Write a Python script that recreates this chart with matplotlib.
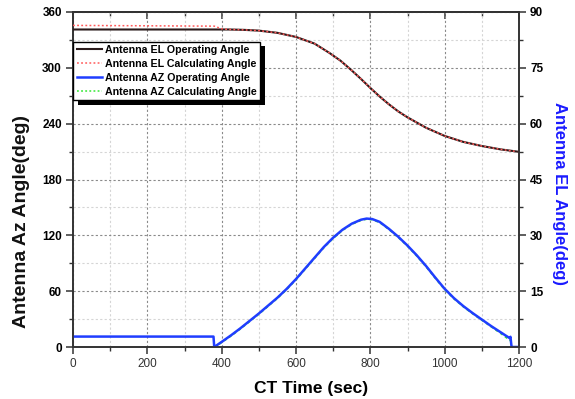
import matplotlib
matplotlib.use("Agg")
import matplotlib.pyplot as plt
from matplotlib.ticker import MultipleLocator
from matplotlib.lines import Line2D
import matplotlib.patheffects as pe

plt.rcParams['font.family'] = ['Liberation Sans', 'DejaVu Sans']

# ---- data ----
t_el = [0, 380, 420, 460, 500, 550, 600, 650, 690, 720, 750, 775, 800, 825, 850, 875, 900, 950, 1000, 1050, 1100, 1150, 1195]
el_operating = [85.3, 85.3, 85.3, 85.2, 85.0, 84.4, 83.3, 81.5, 79.0, 76.9, 74.3, 72.0, 69.6, 67.3, 65.2, 63.3, 61.7, 58.9, 56.7, 55.1, 54.0, 53.1, 52.5]
t_el_calc = [0, 380, 400, 420, 460, 500, 550, 600, 650, 690, 720, 750, 775, 800, 825, 850, 875, 900, 950, 1000, 1050, 1100, 1150, 1195]
el_calculating = [86.4, 86.2, 85.5, 85.3, 85.2, 85.0, 84.4, 83.3, 81.5, 79.0, 76.9, 74.3, 72.0, 69.6, 67.3, 65.2, 63.3, 61.7, 58.9, 56.7, 55.1, 54.0, 53.1, 52.5]

t_az = [0, 378, 380, 400, 425, 450, 475, 500, 525, 550, 575, 600, 625, 650, 675, 700, 725, 750, 775, 790,
        805, 825, 850, 875, 900, 925, 950, 975, 1000, 1025, 1050, 1075, 1100, 1125, 1150, 1175, 1177, 1180, 1195]
az_operating = [11.2, 11.2, 0, 5.5, 12.5, 20, 28, 36, 44.5, 53, 62.5, 73, 84.5, 96, 107.5, 117.5, 126, 132.5, 136.8, 138,
                137.5, 134.5, 127, 118.5, 109, 98.5, 87, 74.5, 62.5, 52.5, 44, 36.5, 29.5, 22.5, 16, 9.5, 11, 0, 0]
t_az_calc = [380, 400, 425, 450, 475, 500, 525, 550, 575, 600, 625, 650, 675, 700, 725, 750, 775, 790,
             805, 825, 850, 875, 900, 925, 950, 975, 1000, 1025, 1050, 1075, 1100, 1125, 1150, 1180]
az_calculating = [0, 5.0, 12, 19.5, 27.5, 35.5, 44, 52.5, 62, 72.5, 84, 95.5, 107, 117, 125.5, 132, 136.3, 137.5,
                  137, 134, 126.5, 118, 108.5, 98, 86.5, 74, 62, 52, 43.5, 36, 29, 22, 15, 6]

x_ticks = [0, 200, 400, 600, 800, 1000, 1200]
az_ticks = [0, 60, 120, 180, 240, 300, 360]
el_ticks = [0, 15, 30, 45, 60, 75, 90]

legend_labels = ['Antenna EL Operating Angle', 'Antenna EL Calculating Angle',
                 'Antenna AZ Operating Angle', 'Antenna AZ Calculating Angle']

# ---- figure ----
fig = plt.figure(figsize=(5.75, 3.99), dpi=100)
ax = fig.add_axes([73/575, 1-347/399, 446/575, 335/399])
ax2 = ax.twinx()

ax.set_xlim(0, 1200)
ax.set_ylim(0, 360)
ax2.set_ylim(0, 90)

ax.set_xticks(x_ticks)
ax.xaxis.set_minor_locator(MultipleLocator(100))
ax.set_yticks(az_ticks)
ax.yaxis.set_minor_locator(MultipleLocator(30))
ax2.set_yticks(el_ticks)
ax2.yaxis.set_minor_locator(MultipleLocator(7.5))

# grid
ax.grid(which='major', color='#8a8a8a', linestyle=(0, (2, 2)), linewidth=0.8)
ax.grid(which='minor', color='#d5d5d5', linestyle=(0, (2, 2)), linewidth=0.8)
ax.set_axisbelow(True)

# lines
ax.plot(t_az_calc, az_calculating, color='#33e833', linestyle=(0, (1.5, 1.5)), linewidth=1.4, zorder=3)
ax.plot(t_az, az_operating, color='#1f3dff', linewidth=1.8, zorder=4)
ax2.plot(t_el, el_operating, color='#2a1a1a', linewidth=1.5, zorder=3)
ax2.plot(t_el_calc, el_calculating, color='#ff5a5a', linestyle=(0, (1.2, 1.5)), linewidth=1.1, zorder=4)

# ticks
for a in (ax, ax2):
    for s in a.spines.values():
        s.set_linewidth(1.2)
        s.set_color('#333333')
ax.tick_params(axis='both', which='major', direction='out', length=5, width=1.1, color='#333333')
ax.tick_params(axis='both', which='minor', direction='out', length=3, width=1.0, color='#333333')
ax.tick_params(axis='y', labelsize=8.5, pad=3)
ax.tick_params(axis='x', labelsize=8.5, pad=3, labelcolor='#333333')
for lbl in ax.get_yticklabels():
    lbl.set_fontweight('bold')
ax2.tick_params(axis='y', which='major', direction='out', length=5, width=1.1, color='#333333', labelsize=8.5, pad=3)
ax2.tick_params(axis='y', which='minor', direction='out', length=3, width=1.0, color='#333333')
for lbl in ax2.get_yticklabels():
    lbl.set_fontweight('bold')

secx = ax.secondary_xaxis('top')
secx.set_xticks(x_ticks)
secx.xaxis.set_minor_locator(MultipleLocator(100))
secx.tick_params(axis='x', which='major', direction='in', length=5, width=1.1, labeltop=False, color='#333333')
secx.tick_params(axis='x', which='minor', direction='in', length=3, width=1.0, color='#333333')
secx.spines['top'].set_linewidth(1.2)

# labels
fig.text(311/575, 1-388/399, 'CT Time (sec)', ha='center', va='center', fontsize=12.5, fontweight='bold')
fig.text(22/575, 1-222/399, 'Antenna Az Angle(deg)', ha='center', va='center', rotation=90,
         fontsize=14, fontweight='bold', color='#111111')
fig.text(560/575, 1-193/399, 'Antenna EL Angle(deg)', ha='center', va='center', rotation=-90,
         fontsize=12, fontweight='bold', color='#1a1aff')

# legend
handles = [
    Line2D([], [], color='#2a1a1a', linewidth=1.5),
    Line2D([], [], color='#ff5a5a', linestyle=(0, (1.2, 1.5)), linewidth=1.1),
    Line2D([], [], color='#1f3dff', linewidth=1.8),
    Line2D([], [], color='#33e833', linestyle=(0, (1.2, 1.5)), linewidth=1.1),
]
leg = ax2.legend(handles, legend_labels, loc='upper left', bbox_to_anchor=(-0.004, 0.918),
                 prop={'weight': 'bold', 'size': 7.7}, frameon=True, fancybox=False,
                 edgecolor='black', framealpha=1, borderpad=0.3, labelspacing=0.38,
                 handlelength=2.4, handletextpad=0.3, borderaxespad=0.2)
leg.get_frame().set_linewidth(1.0)
leg.get_frame().set_path_effects([
    pe.SimplePatchShadow(offset=(3.5, -3.5), shadow_rgbFace='black', alpha=1.0),
    pe.Normal()])
leg.set_zorder(10)

fig.savefig('out.png', dpi=100)
